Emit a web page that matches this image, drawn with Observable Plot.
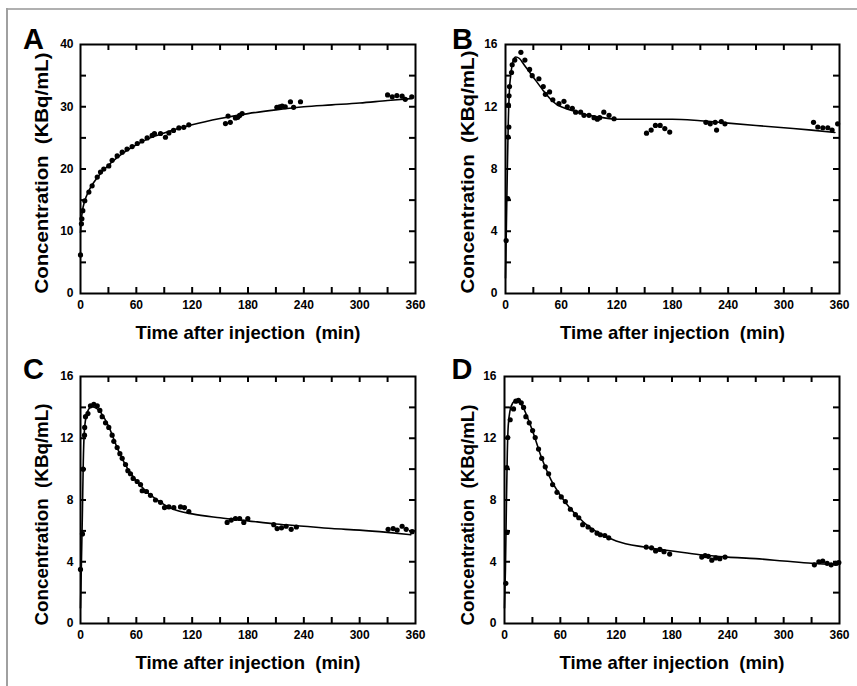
<!DOCTYPE html>
<html><head><meta charset="utf-8">
<script src="https://cdn.jsdelivr.net/npm/d3@7"></script>
<script src="https://cdn.jsdelivr.net/npm/@observablehq/plot@0.6"></script>
<style>
body{margin:0;background:#fff}
#fig{position:relative;width:857px;height:686px;background:#fff;overflow:hidden;font-family:"Liberation Sans",Arial,sans-serif}
.panel{position:absolute}
.bt{position:absolute;left:6px;top:8px;width:851px;height:2px;background:#b0b0b0}
.bl{position:absolute;left:6px;top:8px;width:2px;height:678px;background:#a0a0a0}
</style></head><body><div id="fig"><div class="bt"></div><div class="bl"></div></div>
<script>
// ---- tick labels ----
const xTicks = [0, 60, 120, 180, 240, 300, 360];
const xMinor = [30, 60, 90, 120, 150, 180, 210, 240, 270, 300, 330];
const yTicksA = [0, 10, 20, 30, 40];
const yMinorA = [5, 10, 15, 20, 25, 30, 35];
const yTicksB = [0, 4, 8, 12, 16];
const yMinorB = [2, 4, 6, 8, 10, 12, 14];
const xTitle = "Time after injection  (min)";
const yTitle = "Concentration  (KBq/mL)";

// ---- Panel A ----
const aT = [0, 1, 1.5, 2.5, 4.6, 9, 12.5, 18, 21.5, 25, 30.4, 34, 39.4, 44.8, 50, 55.5, 61, 66, 71.6, 77, 79.5, 86, 91.3, 95, 100, 105.7, 111, 116.4, 155.8, 158.6, 161, 166.5, 169, 171, 173.7, 211, 214, 216.7, 220, 225.6, 229, 236.4, 330, 335, 340, 345.6, 349, 356];
const aC = [6.2, 11.2, 12, 13.3, 14.9, 16.3, 17.3, 18.7, 19.5, 20, 20.5, 21.4, 22.1, 22.7, 23.2, 23.6, 24.1, 24.5, 25, 25.4, 25.7, 25.7, 25.1, 25.8, 26.2, 26.6, 26.7, 27.1, 27.3, 28.5, 27.5, 28.2, 28.3, 28.6, 28.9, 29.9, 30, 30.1, 30, 30.8, 29.9, 30.8, 31.9, 31.6, 31.8, 31.7, 31.2, 31.6];
const aFitT = [0, 1, 2, 4, 6, 10, 15, 20, 30, 40, 50, 60, 75, 90, 105, 120, 150, 180, 210, 240, 270, 300, 330, 355];
const aFitC = [9.8, 12, 13.2, 14.6, 15.5, 16.8, 18, 19, 20.6, 21.9, 23, 23.9, 25, 25.8, 26.5, 27.1, 28.1, 28.9, 29.5, 30, 30.3, 30.6, 31, 31.3];

// ---- Panel B ----
const bT = [0.7, 2.5, 2.8, 3.2, 3.6, 3.8, 4.3, 6.5, 7.2, 10, 16.6, 20.9, 26, 28.8, 36, 40.7, 43, 47.5, 51, 57.6, 63, 66.6, 72, 75.6, 81, 84.6, 90, 95.4, 99, 101.5, 106, 111.6, 117, 152, 157, 161.6, 166.7, 171.7, 177, 216, 220.7, 226, 227.5, 232.6, 236.5, 332, 336.6, 342, 347.4, 352, 358];
const bC = [3.4, 6.1, 10.05, 12.1, 10.7, 12.7, 13.3, 14.2, 14.7, 15.0, 15.5, 15.0, 14.4, 14.0, 13.8, 13.3, 12.8, 12.95, 12.45, 12.2, 12.35, 12.0, 11.9, 11.65, 11.65, 11.45, 11.45, 11.3, 11.2, 11.3, 11.65, 11.45, 11.23, 10.3, 10.5, 10.8, 10.8, 10.6, 10.37, 11.0, 10.9, 11.0, 10.5, 11.05, 10.9, 11.0, 10.7, 10.65, 10.65, 10.5, 10.9];
const bFitT = [0, 1, 2, 3, 4, 6, 8, 11, 15, 20, 30, 40, 50, 55, 60, 75, 90, 105, 120, 180, 210, 240, 270, 300, 330, 355];
const bFitC = [1, 4.5, 8, 11, 12.8, 14.2, 14.9, 15.2, 15.1, 14.7, 13.9, 13.1, 12.4, 12.15, 12.0, 11.7, 11.45, 11.3, 11.2, 11.2, 11.1, 10.95, 10.8, 10.65, 10.5, 10.35];

// ---- Panel C ----
const cT = [0, 2.1, 2.9, 4.3, 4.5, 5.4, 8, 10.7, 14.3, 18, 20.8, 23.3, 26.9, 30.4, 34, 35.8, 39.4, 42.3, 44.8, 48.4, 50.9, 53.7, 56.6, 60.9, 64.5, 66.3, 70.9, 75.2, 80.6, 86, 90.3, 95, 100.3, 107.5, 111.7, 116.4, 157.6, 162, 166.5, 171, 175.5, 179.8, 207.7, 211.3, 216, 221, 226.4, 232, 330.6, 336, 340.3, 345.6, 350, 356.4];
const cC = [3.5, 5.8, 10, 12.2, 12.7, 13.4, 13.6, 14.1, 14.2, 14.1, 13.8, 13.4, 13, 12.7, 12.2, 11.8, 11.4, 11, 10.7, 10.3, 9.9, 9.7, 9.4, 9.2, 9.0, 8.6, 8.55, 8.3, 8.0, 7.85, 7.5, 7.55, 7.5, 7.55, 7.5, 7.25, 6.55, 6.7, 6.8, 6.8, 6.55, 6.8, 6.4, 6.15, 6.2, 6.3, 6.1, 6.25, 6.1, 6.15, 6.05, 6.3, 6.1, 5.95];
const cFitT = [0, 1, 2, 3, 4, 6, 9, 12, 15, 20, 30, 40, 50, 60, 70, 80, 90, 100, 120, 150, 180, 210, 240, 270, 300, 330, 355];
const cFitC = [1, 4, 7, 10.5, 12.3, 13.4, 13.9, 14.05, 14, 13.8, 12.8, 11.3, 10.1, 9.25, 8.6, 8.1, 7.7, 7.4, 7.1, 6.85, 6.65, 6.45, 6.3, 6.15, 6.05, 5.9, 5.75];

// ---- Panel D ----
const dT = [1.4, 2.5, 2.9, 3.6, 6.1, 9.7, 12.2, 15, 18, 20.5, 23, 26.6, 30.2, 33, 36.6, 40, 43.8, 47.4, 51.7, 56.4, 61, 65.4, 70.8, 76.2, 79.8, 84, 89.8, 94, 99.5, 103, 107.8, 112, 152.3, 158, 162.4, 167, 171.4, 177.5, 212, 215.6, 219, 222.8, 227, 231.4, 237, 333, 337.8, 342, 346.7, 351, 355.7, 359.3];
const dC = [2.6, 10.1, 5.9, 12.05, 13.2, 13.9, 14.4, 14.45, 14.3, 14, 13.4, 13, 12.5, 12.05, 11.3, 10.7, 10.15, 9.7, 9.0, 8.5, 8.2, 7.9, 7.4, 7.05, 6.85, 6.4, 6.25, 6.05, 5.85, 5.75, 5.7, 5.55, 4.95, 4.9, 4.7, 4.8, 4.65, 4.5, 4.3, 4.4, 4.35, 4.1, 4.25, 4.2, 4.3, 3.8, 4.0, 4.05, 3.9, 3.8, 3.9, 3.95];
const dFitT = [0, 1, 2, 3, 4, 6, 9, 12, 15, 20, 25, 30, 40, 50, 60, 70, 80, 90, 100, 110, 120, 150, 180, 210, 240, 270, 300, 330, 358];
const dFitC = [1, 3.5, 7.5, 11, 12.8, 13.8, 14.3, 14.45, 14.35, 14, 13.3, 12.5, 10.7, 9.3, 8.3, 7.5, 6.85, 6.3, 5.9, 5.6, 5.35, 4.95, 4.7, 4.45, 4.3, 4.2, 4.05, 3.9, 3.8];

const FONT = '"Liberation Sans", Arial, Helvetica, sans-serif';
const zip = (t, c) => t.map((v, i) => ({t: v, c: c[i]}));

function panel(o) {
  const pw = o.width - o.ml - o.mr, ph = o.height - o.mt - o.mb;
  const TL = 6, TW = 2;
  const svg = Plot.plot({
    width: o.width, height: o.height,
    marginLeft: o.ml, marginRight: o.mr, marginTop: o.mt, marginBottom: o.mb,
    style: {fontFamily: FONT, background: "transparent", overflow: "visible", color: "#000"},
    x: {domain: [0, 360]},
    y: {domain: [0, o.yMax]},
    marks: [
      Plot.ruleX(xMinor, {x: d => d, insetTop: ph - TL, stroke: "#000", strokeWidth: TW}),
      Plot.ruleX(xMinor, {x: d => d, insetBottom: ph - TL, stroke: "#000", strokeWidth: TW}),
      Plot.ruleY(o.yMinor, {y: d => d, insetRight: pw - TL, stroke: "#000", strokeWidth: TW}),
      Plot.ruleY(o.yMinor, {y: d => d, insetLeft: pw - TL, stroke: "#000", strokeWidth: TW}),
      Plot.frame({stroke: "#000", strokeWidth: 2}),
      Plot.axisX({ticks: xTicks, tickSize: 0, tickPadding: 7, fontSize: 12, fontWeight: "bold", label: null, tickFormat: d => String(d)}),
      Plot.axisY({ticks: o.yTicks, tickSize: 0, tickPadding: o.yPad, fontSize: 12, fontWeight: "bold", label: null, tickFormat: d => String(d)}),
      Plot.line(zip(o.ft, o.fc), {x: "t", y: "c", curve: "monotone-x", stroke: "#000", strokeWidth: 1.6}),
      Plot.dot(zip(o.t, o.c), {x: "t", y: "c", r: 2.6, fill: "#000", stroke: "none"}),
      Plot.text([xTitle], {text: d => d, frameAnchor: "bottom", lineAnchor: "bottom", dy: 45.5, fontSize: 18.5, fontWeight: "bold", fill: "#000"}),
      Plot.text([yTitle], {text: d => d, frameAnchor: "bottom-left", textAnchor: "start", lineAnchor: "bottom", rotate: -90, dx: o.yTitleDx, dy: o.yTitleDy, fontSize: 18.5, fontWeight: "bold", fill: "#000"}),
      Plot.text([o.letter], {text: d => d, frameAnchor: "top-left", textAnchor: "middle", lineAnchor: "bottom", dx: o.letterDx, dy: o.letterDy, fontSize: 29, fontWeight: "bold", fill: "#000"})
    ]
  });
  d3.select(svg).selectAll("text").filter(function() { return this.textContent === yTitle; })
    .attr("textLength", o.yTitleLen).attr("lengthAdjust", "spacingAndGlyphs");
  d3.select(svg).selectAll("text").filter(function() { return this.textContent === xTitle; })
    .attr("textLength", 225).attr("lengthAdjust", "spacingAndGlyphs");
  const div = document.createElement("div");
  div.className = "panel";
  div.style.left = o.left + "px";
  div.style.top = o.top + "px";
  div.appendChild(svg);
  document.getElementById("fig").appendChild(div);
}

panel({letter: "A", t: aT, c: aC, ft: aFitT, fc: aFitC, yMax: 40, yTicks: yTicksA, yMinor: yMinorA,
  left: 0, top: 0, width: 428, height: 340, ml: 80, mr: 13, mt: 44, mb: 47, yPad: 7,
  letterDx: -47, letterDy: 4, yTitleDx: -33, yTitleDy: 0, yTitleLen: 241});
panel({letter: "B", t: bT, c: bC, ft: bFitT, fc: bFitC, yMax: 16, yTicks: yTicksB, yMinor: yMinorB,
  left: 428, top: 0, width: 429, height: 340, ml: 77, mr: 18, mt: 44, mb: 47, yPad: 8,
  letterDx: -43, letterDy: 4, yTitleDx: -32, yTitleDy: 0, yTitleLen: 243});
panel({letter: "C", t: cT, c: cC, ft: cFitT, fc: cFitC, yMax: 16, yTicks: yTicksB, yMinor: yMinorB,
  left: 0, top: 340, width: 428, height: 346, ml: 80, mr: 13, mt: 36, mb: 63, yPad: 7,
  letterDx: -47, letterDy: 2, yTitleDx: -33, yTitleDy: 2, yTitleLen: 222});
panel({letter: "D", t: dT, c: dC, ft: dFitT, fc: dFitC, yMax: 16, yTicks: yTicksB, yMinor: yMinorB,
  left: 428, top: 340, width: 429, height: 346, ml: 76, mr: 18, mt: 36, mb: 63, yPad: 8,
  letterDx: -42.5, letterDy: 2, yTitleDx: -31, yTitleDy: 2, yTitleLen: 221});
</script></body></html>
